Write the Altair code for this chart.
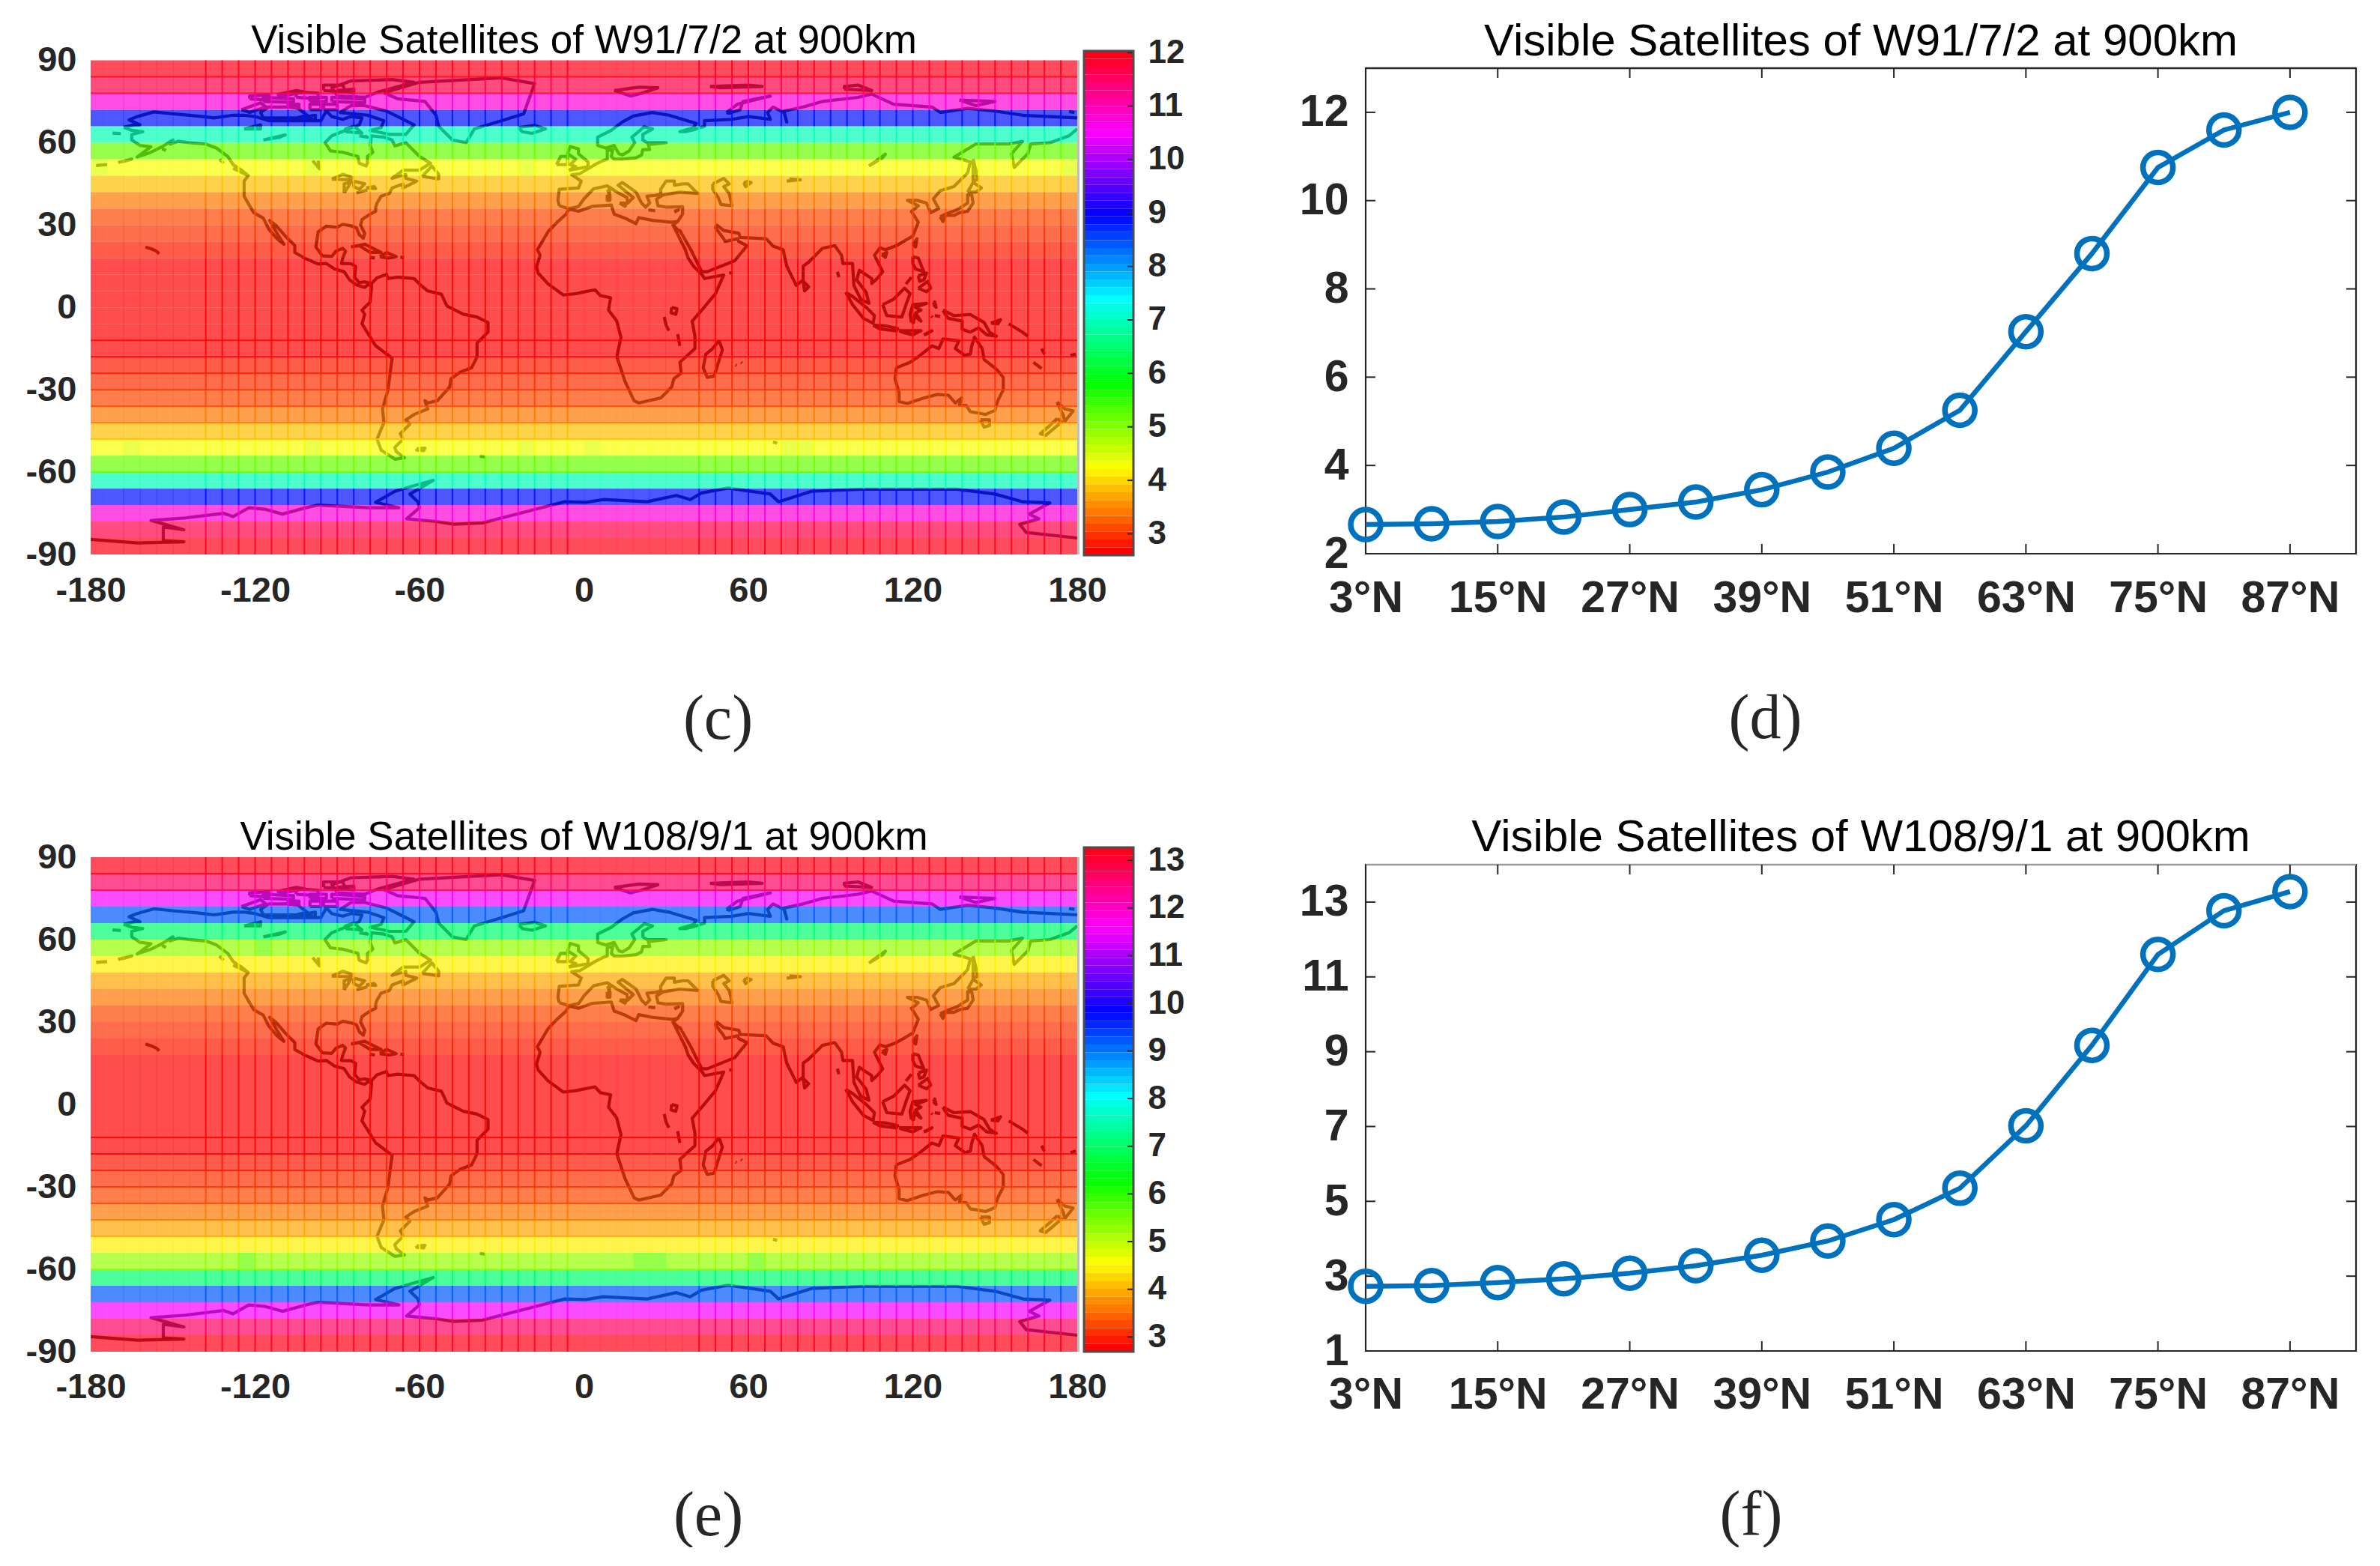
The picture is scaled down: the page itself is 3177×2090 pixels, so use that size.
import math
import altair as alt
import pandas as pd

alt.data_transformers.disable_max_rows()

LATS_N = [3, 9, 15, 21, 27, 33, 39, 45, 51, 57, 63, 69, 75, 81, 87]
VALUES_D = [2.66, 2.68, 2.73, 2.83, 3.0, 3.17, 3.45, 3.85, 4.39, 5.25, 7.03, 8.8, 10.75, 11.6, 12.0]
VALUES_F = [2.73, 2.75, 2.83, 2.93, 3.08, 3.28, 3.56, 3.94, 4.51, 5.35, 7.02, 9.17, 11.6, 12.77, 13.28]
X_TICKS = [3, 15, 27, 39, 51, 63, 75, 87]
Y_TICKS_D = [2, 4, 6, 8, 10, 12]
Y_TICKS_F = [1, 3, 5, 7, 9, 11, 13]
CB_TICKS_C = [3, 4, 5, 6, 7, 8, 9, 10, 11, 12]
CB_TICKS_E = [3, 4, 5, 6, 7, 8, 9, 10, 11, 12, 13]
LON_TICKS = [-180, -120, -60, 0, 60, 120, 180]
LAT_TICKS = [-90, -60, -30, 0, 30, 60, 90]
V_STRONG = list(range(-138, 0, 6)) + list(range(42, 180, 6))
V_FAINT = [-168, -162, -156, -150, -144, 0, 6, 12, 18, 24, 30, 36]
H_LINES = [84, 78, -12, -18, -24, -30, -36, -42, -48, -60]
# single cells that read a little higher than the rest of their band: (lon, lat, value)
CELLS_C = [(-180, 48, 4.55), (-102, 48, 4.55), (-24, 48, 4.55), (174, 48, 4.55),
           (-168, -54, 4.55), (-102, -54, 4.55), (-24, -54, 4.55), (0, -54, 4.55), (72, -54, 4.55), (78, -54, 4.55)]
CELLS_E = [(-126, -60, 5.65), (18, -60, 5.65), (24, -60, 5.65), (60, -60, 5.65), (-120, 54, 5.65)]

COAST = [
 # North America
 [(-168,65.6),(-164,66.5),(-162,66.5),(-166,68.3),(-163,69.5),(-157,71.2),(-150,70.5),(-141,69.7),(-135,69),(-128,70),(-124,70),(-120,69.5),(-115,68),(-108,68),(-100,68),(-96,68),(-94,71.5),(-92,69.5),(-88,68.5),(-85,69.5),(-81,69),(-82,66.5),(-87,64.5),(-92,62.5),(-94.5,60),(-92.5,57),(-88,56.5),(-82.5,55),(-82,52.5),(-79.5,51.5),(-79,52.5),(-79,55),(-77,56.5),(-78,59),(-77.5,62.5),(-73,62),(-70,61),(-69,58.8),(-65,60),(-62,57),(-60,55),(-56,52.5),(-60,50),(-66,50),(-70,47),(-65,48.5),(-65,47),(-61,46),(-64,44.5),(-66,43.5),(-66,45),(-70,43.5),(-71,41.5),(-74,40.5),(-75.5,38),(-76,36.5),(-76,35),(-78,34),(-81,32),(-81.5,30),(-80,27),(-80.5,25.2),(-82,26.5),(-83,29),(-85,29.7),(-88,30.3),(-90,29.2),(-94,29.6),(-97,27.5),(-97.5,24),(-97.8,22),(-95.5,18.8),(-92,18.6),(-90.5,20.5),(-88,21.5),(-87,20.5),(-88,18),(-88.5,16),(-85,15.9),(-83.3,15),(-83.7,11),(-82,9),(-80,9.3),(-77.5,8.7)],
 [(-77.5,7.5),(-78.5,8.5),(-80,7.3),(-83,8.2),(-85.5,10),(-87.5,13),(-91,14),(-94,16),(-97,15.8),(-102,18),(-105.5,20),(-105.5,22.5),(-109,26),(-112.5,30),(-114.7,31.7),(-112,27),(-109.5,23),(-112,25),(-115,28.5),(-117,32.5),(-120.5,34.5),(-122,37),(-124,40.5),(-124,46),(-122.5,48),(-125,50),(-128,52),(-130,55),(-134,58),(-138,59.5),(-144,60),(-148,60.5),(-151,59.5),(-150,61),(-154,58.5),(-158,56.5),(-163,54.8),(-158,58.5),(-162,59),(-165,61),(-165,63),(-161,64),(-165,64.5),(-168,65.6)],
 [(-80,73.5),(-72,71.5),(-67,69),(-62,66.5),(-65,63),(-71,63),(-78,64.5),(-74,65.5),(-73,68),(-79,70),(-89,71),(-85,73.5),(-80,73.5)],
 [(-117,69),(-105,69),(-101,70),(-105,73),(-115,73),(-118,71),(-117,69)],
 [(-125,72),(-118,74.5),(-116,73),(-122,71),(-125,72)],
 [(-90,77),(-80,76.5),(-75,78.5),(-62,82),(-70,83),(-85,82.5),(-92,80),(-90,77)],
 [(-92,75),(-80,74.5),(-80,75.8),(-92,76.5),(-92,75)],
 [(-95,79),(-87,78.5),(-88,81),(-95,81),(-95,79)],
 [(-117,75),(-106,74.7),(-106,76),(-117,76.5),(-117,75)],
 [(-100,72),(-96,72),(-96,74),(-100,74),(-100,72)],
 [(-95,72),(-90,72),(-90,74),(-95,74),(-95,72)],
 [(-105,76.5),(-97,76),(-97,78),(-105,78.5),(-105,76.5)],
 [(-122,76),(-115,75.5),(-115,77.5),(-122,77),(-122,76)],
 [(-112,77.5),(-105,79),(-102,78.5),(-110,77),(-112,77.5)],
 [(-100,75),(-94,75),(-94,76.5),(-100,76.5),(-100,75)],
 [(-108,73),(-104,72.5),(-104,74),(-108,74),(-108,73)],
 [(-90,79),(-84,78),(-84,79.5),(-90,79)],
 [(-104,69),(-98,70),(-98,68.5),(-104,69)],
 [(-87,64),(-81,63.5),(-84,66),(-87,65),(-87,64)],
 [(-80,62.5),(-79,62),(-82,62.5)],
 [(-59,47.7),(-53,46.8),(-53,48.5),(-55.5,51.5),(-59,47.7)],
 [(-128,50.7),(-123.5,48.5),(-125,50),(-128,50.7)],
 [(-133,54),(-131.5,52.5)],
 [(-154,57.8),(-152.5,57.2)],
 [(-85,22),(-80,23),(-75,20.5),(-74,20),(-78,20),(-82,22.5),(-85,22)],
 [(-74.5,18.5),(-72,20),(-68.5,18.5),(-71,18),(-74.5,18.5)],
 [(-78.3,18.3),(-76.3,18)],
 [(-67,18.3),(-65.6,18.2)],
 [(-160,22),(-157.8,21.3),(-156,20.5),(-155,19.5)],
 [(-178,51.7),(-174,52)],
 [(-170,52.8),(-165,54),(-168.5,53)],
 [(-172,63.5),(-169,63.3)],
 [(-92,46.7),(-88,48.5),(-85,47.5),(-85,46.5),(-92,46.7)],
 [(-87.5,41.7),(-86,44),(-85,45.8),(-87.5,45),(-87.5,41.7)],
 [(-84,46),(-80,45),(-82,43),(-84,44),(-84,46)],
 [(-83,41.7),(-79,42.8)],
 [(-79.5,43.5),(-76.5,44),(-76,43.3),(-79.5,43.5)],
 [(-124,65),(-118,66.5),(-118,65),(-124,65)],
 [(-117,61),(-109,62.8),(-111,62),(-117,61)],
 [(-99,53.5),(-96.5,50.5),(-97,53.5)],
 # Greenland
 [(-73,78.2),(-60,82),(-30,83.6),(-18,81.5),(-20,76),(-22,70.5),(-30,68),(-40,65),(-43,60),(-48,61),(-53,66),(-54,70),(-58,75),(-68,76),(-73,78.2)],
 # South America
 [(-77.5,8.7),(-75.5,10.8),(-72,12),(-71.5,10.5),(-68,11),(-62,10.5),(-60,8.5),(-57,6),(-52,4.8),(-50,0.5),(-44,-2.5),(-39,-3.5),(-35,-5.5),(-35,-9),(-39,-13),(-39,-18),(-41,-22),(-45,-23.5),(-48.5,-26),(-49,-29),(-53.5,-34),(-57,-34.8),(-58,-34),(-57,-37),(-62,-39),(-65,-41),(-63.5,-42.5),(-67,-46),(-66,-48),(-69,-51),(-68.5,-52.5),(-65.5,-54.8),(-69,-55.3),(-74,-52),(-75.5,-48),(-73,-42),(-73.5,-37),(-71.5,-30),(-70,-18.5),(-76,-14),(-81,-6),(-80,-2.5),(-81,-1),(-78,2),(-77.5,7.5),(-77.5,8.7)],
 [(-61,-51.5),(-58,-51.3),(-58.5,-52.2),(-61,-52),(-61,-51.5)],
 [(-38,-54.2),(-36,-54.5)],
 # Africa
 [(-5.5,35.8),(-2,35),(3,36.8),(10,37.3),(11,34),(15,32.5),(19,30.5),(20,32.7),(25,31.7),(32,31),(34.2,31.3)],
 [(32.5,30),(33.5,28),(35.5,24),(37,21),(38,18),(40,15),(43,12),(44,10.5),(51,11.8),(48,5),(43,-1),(39.5,-5),(40.5,-10.5),(40.5,-15),(35,-20),(35.5,-24),(32.8,-26),(32,-29),(28,-33),(20,-34.8),(18.3,-34),(15,-27),(12,-18),(13.5,-11),(12,-5),(9,-1),(9.7,3.5),(6,4.3),(4,6.4),(-3,5),(-7.5,4.5),(-13,8.5),(-16.7,12.5),(-17.3,14.7),(-16,19),(-17,21),(-13,27.7),(-9.8,31),(-6.5,34),(-5.5,35.8)],
 [(49.3,-12),(50.5,-15.5),(47.5,-25),(45,-25.5),(43.5,-22),(44.5,-17),(47,-15),(49.3,-12)],
 [(32,0),(34,-0.5),(33.5,-2.5),(31.8,-2),(32,0)],
 [(29.3,-3.5),(30,-6.5),(31,-8.5)],
 [(34.2,-9.7),(35,-14)],
 [(53,12.5),(54.3,12.6)],
 [(55.3,-21),(55.7,-21.2)],
 [(57.3,-20),(57.7,-20.3)],
 # Eurasia
 [(-9,37),(-9.5,39),(-9,43),(-2,43.5),(-1,46),(-4.5,48.3),(-1.5,48.7),(1.5,50.5),(4,52),(7,53.5),(8.5,54),(8.5,57),(10.5,57.5),(10,55),(11,54),(14,54),(19,54.5),(21,55.5),(21.5,57.5),(24,57.5),(23.5,59.3),(30,60),(23,60),(21.5,61),(21.5,63),(25,65),(22,65.8),(17.5,62),(18.5,60),(16.5,57),(14,55.5),(12.7,56),(11,59),(8,58),(5,59),(5,62),(10,64.5),(14,67.5),(18,69.7),(25,71),(31,70),(41,67),(40,65.5),(35,64),(37,64),(40,64.7),(44,66),(44,68),(54,68.5),(60,69.5),(68,68.5),(67,71),(69,73),(73,71),(74,67.5),(73,71.5),(80,73),(87,75),(100,76.5),(105,77.7),(113,74),(127,73),(130,71),(140,72.5),(150,71.5),(160,70),(170,69.5),(180,69)],
 [(180,65),(177,62.5),(170,60),(163,59.5),(162,56),(157,51),(156,56),(160,60.5),(155,59.5),(143,59.5),(135,54.7),(141,53),(140,49),(135,44),(130,42.5),(127.5,39.5),(129.4,36),(126.5,34.5),(125,38),(121.5,39),(118,39),(122,37),(119.5,35),(122,31),(120,26),(114,22.5),(110,21),(108,21.7),(106,19),(109,13),(107,10.5),(105,8.7),(105,10.5),(102,12.5),(100.5,13.5),(99.5,10),(103,5.5),(104,1.5),(101,3),(98.5,8),(98,16),(94.5,16),(94,19),(91.5,22.5),(87,21.5),(82,16.5),(80,15),(80,10),(77.5,8),(74,15),(72.7,21),(69,22.3),(66.5,25),(57,25.5),(56.5,27),(51,28),(48.5,30),(48,29),(51,25),(51.5,24),(56,25),(56.5,24),(59.5,22.5),(55,17),(45,13),(43,13),(39,21),(35,28),(34.5,28),(32.5,30),(34.2,31.3),(36,34),(36,36.7),(30,36.5),(27,37),(26.5,39.5),(29,41),(35,42),(41.5,41.5),(38,45),(36,45),(33,44.5),(33,46),(30,46),(28,43),(28,41.2),(26,40.8),(23,40.5),(24,38),(22.5,36.5),(21,38),(19.5,41),(19,42),(14,45.5),(12.5,44.5),(18,40),(16,38),(15.7,40),(12,42),(8.5,44.3),(3.5,43.2),(0,39.5),(-2,36.7),(-5.5,36),(-9,37)],
 [(47,45),(51,47),(53,45),(51,44),(53,41.5),(54,37),(50,37.5),(49,40),(47,43),(47,45)],
 [(59,46),(61,45.5),(59,44),(58.5,45),(59,46)],
 [(104,51.5),(110,55.8),(109,54.5),(104,51.5)],
 [(74,46),(79,46.5),(75,46.8)],
 [(8.5,41),(9.5,41),(9.5,39),(8.5,39),(8.5,41)],
 [(13,38),(15.5,38),(15,36.8),(13,38)],
 [(8.6,43),(9.5,42.9),(9.2,41.5),(8.6,43)],
 [(23.5,35.5),(26,35.2)],
 [(33,35),(34.5,35.5),(33,34.7)],
 [(-5.5,50),(1.5,51.2),(1.5,53),(-2,56),(-2,57.7),(-5,58.6),(-6,56),(-3,54),(-5,52),(-3,51.3),(-5.5,50)],
 [(-10,52),(-6,52),(-6,55),(-8.5,55),(-10,52)],
 [(-24,65.5),(-18,66.3),(-14,65),(-19,63.4),(-22.5,64),(-24,65.5)],
 [(11,79),(20,80.2),(27,80),(21,78),(17,77),(11,79)],
 [(46,80.5),(60,81),(65,80.5),(50,80),(46,80.5)],
 [(52,71),(56,74),(68,77),(58,75),(57,72),(53,70.7),(52,71)],
 [(95,79.5),(105,79),(100,81),(95,80.5),(95,79.5)],
 [(137,75.5),(150,75),(143,73.5),(137,75.5)],
 [(179,71),(177,71.3)],
 [(142,54),(143,50),(143.5,46.5),(142,46),(142,50),(142,54)],
 [(130,33),(132,34),(136,35.5),(140,38),(140,41),(141.5,41),(142,38),(140,35),(137,34.5),(135,33.5),(132,33.5),(131,31.3),(130,33)],
 [(140,42),(142,45.5),(145,43.5),(143,42),(140,42)],
 [(120,23),(121.5,25),(121,22),(120,23)],
 [(108.7,19.2),(110.5,20),(110,18.3),(108.7,19.2)],
 [(120,18.5),(122,18),(124,13),(121,14),(120,16),(120,18.5)],
 [(122,7),(125.5,9.5),(126.5,7),(125,5.7),(122,7)],
 [(122,11.5),(125,12.5),(124,10),(122.5,9.5),(122,11.5)],
 [(117.5,8.5),(119.5,11)],
 [(109,1),(113,3),(117,7),(119,5),(117.5,1),(116,-3.5),(110.5,-3),(109,1)],
 [(95.5,5.5),(98,4),(103,0),(106,-3),(105.5,-5.8),(102,-4),(98,1),(95.5,5.5)],
 [(105.5,-6.5),(110,-6.7),(114.5,-7.7),(114,-8.6),(108,-7.8),(105.5,-6.5)],
 [(119.5,-5.5),(119,-2.5),(120,1),(125,1.5),(121,0),(123,-1),(121,-2),(123,-5),(120.5,-3),(120.3,-5.5),(119.5,-5.5)],
 [(115,-8.5),(119,-8.5),(123,-8.5),(120,-10),(116,-9),(115,-8.5)],
 [(124,-10),(127,-8.5),(125,-9.7),(124,-10)],
 [(127.5,1),(128,2),(128.5,0),(127.5,1)],
 [(128,-3),(130,-3.3)],
 [(126.8,-3.2),(127.2,-3.6)],
 [(131,-1),(135,-3),(141,-2.6),(146,-5.5),(148,-9),(150.5,-10.5),(147,-10),(144,-7.5),(141,-9),(138,-8),(138,-5),(133,-4),(132,-2.8),(131,-1)],
 [(148.5,-5.7),(152,-4.5),(151,-6),(148.5,-5.7)],
 [(155,-6),(160,-9),(162,-10.5)],
 [(167,-15),(168,-17)],
 [(164,-20),(167,-22.3)],
 [(177.5,-17.5),(179.5,-17)],
 [(80,9.5),(82,7.5),(80.5,6),(80,9.5)],
 [(92.5,13),(93,11)],
 # Oceania
 [(114,-22),(113.5,-26),(115,-31),(115,-34.3),(118,-35),(124,-33),(129,-31.7),(133,-32),(135.5,-34.8),(137.8,-33),(137,-35.5),(139.5,-35.8),(141,-38),(144,-38.5),(146.5,-39),(150,-37.5),(151,-34),(153,-30),(153,-25.5),(150.5,-22.5),(146,-19),(145.3,-15),(142.5,-10.8),(141.5,-14),(141,-17),(139,-17.5),(135.5,-15),(136.8,-12.2),(131,-11.5),(129.5,-15),(127,-14),(122,-18),(119,-20),(114,-22)],
 [(144.7,-41),(148,-41),(148,-43),(146,-43.6),(144.7,-41)],
 [(172.7,-34.5),(175.5,-37),(178.5,-37.7),(175.5,-41.5),(174.8,-39),(173,-35.5),(172.7,-34.5)],
 [(172.7,-40.5),(174.3,-41.7),(171,-44.5),(168.5,-46.6),(166.5,-46),(170,-43),(172.7,-40.5)],
 [(69,-49),(70.5,-49.5)],
 # Antarctica
 [(-180,-84.5),(-163,-85.8),(-146,-85.4),(-153.5,-85),(-153.5,-80),(-146,-81),(-158,-77.6),(-145.4,-76.7),(-131.5,-75),(-128,-76.2),(-122.3,-73),(-116.5,-73.5),(-110,-75.3),(-101.6,-73),(-97,-72),(-78.5,-73),(-67.5,-73),(-76,-71),(-69,-67),(-64.7,-65.7),(-55,-63),(-63.5,-68),(-60.6,-70.8),(-60,-73),(-64.7,-77),(-54,-78),(-47.5,-79),(-37,-78.5),(-30,-76.7),(-14,-72.6),(-7,-70.8),(0.8,-71),(7,-70),(23,-70.8),(33.7,-68.5),(38.8,-70),(42.9,-67.6),(52.6,-65.8),(68,-68),(71,-70.8),(83,-67),(101.5,-66.2),(136,-66.2),(150,-68),(160.2,-70.8),(170,-71.2),(162.5,-75.3),(166,-77),(159,-79),(161.4,-82),(180,-84)],
]

FONT = "Liberation Sans"
INK = "#262626"
BLUE = "#0072BD"


def hsv_hex(h):
    i = int(h * 6) % 6
    f = h * 6 - int(h * 6)
    rows = [(1, f, 0), (1 - f, 1, 0), (0, 1, f), (0, 1 - f, 1), (f, 0, 1), (1, 0, 1 - f)]
    r, g, b = rows[i]
    return "#%02x%02x%02x" % (round(r * 255), round(g * 255), round(b * 255))


def level_colour(v, lo, hi):
    k = min(63, max(0, int((v - lo) / (hi - lo) * 64)))
    return hsv_hex(k / 64)


def band_value(lat, values):
    return values[int((abs(lat + 3) - 3) / 6)]


def map_panel(title, values, extra, lo, hi, rng, title_offset, cap, cap_x, h):
    overrides = {(a, b): v for a, b, v in extra}
    cells, vs, hs = [], [], []
    for la in range(-90, 90, 6):
        c = level_colour(band_value(la, values), lo, hi)
        for lo_ in range(-180, 180, 6):
            cv = overrides.get((lo_, la))
            cc = level_colour(cv, lo, hi) if cv else c
            cells.append({"lon": lo_, "lon2": lo_ + 6, "lat": la, "lat2": la + 6, "c": cc})
        for x in V_STRONG:
            vs.append({"lon": x, "lat": la, "lat2": la + 6, "c": c, "f": 0})
        for x in V_FAINT:
            vs.append({"lon": x, "lat": la, "lat2": la + 6, "c": c, "f": 1})
    for yy in H_LINES:
        c = level_colour(band_value(yy, values), lo, hi)
        for lo_ in range(-180, 180, 6):
            hs.append({"lon": lo_, "lon2": lo_ + 6, "lat": yy, "c": c})
    coast = [{"lon": p[0], "lat": p[1], "seg": s, "i": i}
             for s, line in enumerate(COAST) for i, p in enumerate(line)]
    xs = alt.Scale(domain=[-180, 180], nice=False, zero=False)
    ys = alt.Scale(domain=[-90, 90], nice=False, zero=False, range=rng)
    xa = alt.Axis(values=LON_TICKS, labelExpr="'' + datum.value", grid=False, domain=False, ticks=False,
                  labelFont=FONT, labelFontSize=47, labelFontWeight="bold", labelColor=INK, labelPadding=24,
                  labelOverlap=False, labelFlush=False, title=cap, titleFont="Liberation Serif", titleFontSize=84,
                  titleFontWeight="normal", titleColor=INK, titleX=cap_x, titleY=244,
                  titleBaseline="alphabetic", titleAnchor="start", titleAlign="center")
    ya = alt.Axis(values=LAT_TICKS, labelExpr="'' + datum.value", grid=False, domain=False, ticks=False,
                  labelFont=FONT, labelFontSize=47, labelFontWeight="bold", labelColor=INK, labelPadding=19,
                  labelOverlap=False, labelFlush=False, title=None)
    X = alt.X("lon:Q", scale=xs, axis=xa)
    Y = alt.Y("lat:Q", scale=ys, axis=ya)
    col = alt.Color("c:N", scale=None)
    land = alt.Chart(pd.DataFrame(coast)).mark_line(color="#222222", strokeWidth=4.2, strokeJoin="round", clip=True).encode(
        x=X, y=Y, detail="seg:N", order="i:Q")
    rects = alt.Chart(pd.DataFrame(cells)).mark_rect(fillOpacity=0.7, strokeWidth=0).encode(
        x=X, x2="lon2:Q", y=Y, y2="lat2:Q", color=col)
    vdf = pd.DataFrame(vs)
    vstrong = alt.Chart(vdf[vdf.f == 0]).mark_rule(strokeWidth=2, opacity=0.9).encode(
        x=X, y=Y, y2="lat2:Q", color=col)
    vfaint = alt.Chart(vdf[vdf.f == 1]).mark_rule(strokeWidth=1.6, opacity=0.3).encode(
        x=X, y=Y, y2="lat2:Q", color=col)
    hl = alt.Chart(pd.DataFrame(hs)).mark_rule(strokeWidth=2, opacity=0.85).encode(
        x=X, x2="lon2:Q", y=Y, color=col)
    edge = alt.Chart(pd.DataFrame({"lon": [180.4], "lat": [-90], "lat2": [90]})).mark_rule(
        color="#bdbdbd", strokeWidth=3).encode(x=X, y=Y, y2="lat2:Q")
    return alt.layer(land, rects, vfaint, vstrong, hl, edge).properties(
        width=1317, height=h,
        title=alt.TitleParams(title, font=FONT, fontSize=53, fontWeight="normal", color="black",
                              offset=title_offset))


def colour_bar(lo, hi, ticks, h):
    levels = [{"y": lo + (hi - lo) * k / 64, "y2": lo + (hi - lo) * (k + 1) / 64, "c": hsv_hex(k / 64)}
              for k in range(64)]
    ys = alt.Scale(domain=[lo, hi], nice=False, zero=False)
    ya = alt.Axis(orient="right", values=ticks, grid=False, domain=False, ticks=False, labelFont=FONT,
                  labelFontSize=44, labelFontWeight="bold", labelColor=INK, labelPadding=19,
                  labelOverlap=False, labelFlush=False, title=None, format="d")
    Y = alt.Y("y:Q", scale=ys, axis=ya)
    bars = alt.Chart(pd.DataFrame(levels)).mark_rect(strokeWidth=0).encode(
        x=alt.value(0), x2=alt.value(66), y=Y, y2="y2:Q",
        color=alt.Color("c:N", scale=None))
    tk = alt.Chart(pd.DataFrame({"y": ticks})).mark_rule(color=INK, strokeWidth=2).encode(
        x=alt.value(58), x2=alt.value(66), y=Y)
    frame = alt.Chart(pd.DataFrame({"y": [lo], "y2": [hi]})).mark_rect(
        fillOpacity=0, stroke="#4d4d4d", strokeWidth=3).encode(
        x=alt.value(0), x2=alt.value(66), y=Y, y2="y2:Q")
    return alt.layer(bars, tk, frame).properties(width=66, height=h)


def line_panel(title, values, y_lo, y_hi, yticks, rng, title_offset, cap, cap_x, h, top_colour):
    df = pd.DataFrame({"x": LATS_N, "y": values})
    xs = alt.Scale(domain=[3, 93], nice=False, zero=False)
    ys = alt.Scale(domain=[y_lo, y_hi], nice=False, zero=False, range=rng)
    xa = alt.Axis(values=X_TICKS, labelExpr="datum.value + '°N'", grid=False, domain=False, ticks=False,
                  labelFont=FONT, labelFontSize=59, labelFontWeight="bold", labelColor=INK,
                  labelPadding=28, labelOverlap=False, labelFlush=False, title=cap, titleFont="Liberation Serif",
                  titleFontSize=84, titleFontWeight="normal", titleColor=INK, titleX=cap_x, titleY=243,
                  titleBaseline="alphabetic", titleAnchor="start", titleAlign="center")
    ya = alt.Axis(values=yticks, grid=False, domain=False, ticks=False, labelFont=FONT, labelFontSize=59,
                  labelFontWeight="bold", labelColor=INK, labelPadding=23, labelOverlap=False, labelFlush=False,
                  title=None, format="d")
    X = alt.X("x:Q", scale=xs, axis=xa)
    Y = alt.Y("y:Q", scale=ys, axis=ya)
    dy = (y_hi - y_lo) * 13 / 648
    dx = 90 * 13 / 1322
    vt = [{"x": t, "y": y_lo, "y2": y_lo + dy} for t in X_TICKS] + [{"x": t, "y": y_hi, "y2": y_hi - dy} for t in X_TICKS]
    ht = [{"x": 3, "x2": 3 + dx, "y": t} for t in yticks] + [{"x": 93, "x2": 93 - dx, "y": t} for t in yticks]
    box = pd.DataFrame({"x": [3], "x2": [93], "y": [y_lo], "y2": [y_hi]})
    frame = alt.Chart(box).mark_rect(fillOpacity=0, stroke=INK, strokeWidth=2.2).encode(
        x=X, x2="x2:Q", y=Y, y2="y2:Q")
    top = pd.DataFrame({"x": [3], "x2": [93], "y": [y_hi]})
    topl = alt.Chart(top).mark_rule(stroke=top_colour, strokeWidth=2.6).encode(x=X, x2="x2:Q", y=Y)
    t1 = alt.Chart(pd.DataFrame(vt)).mark_rule(color=INK, strokeWidth=2).encode(x=X, y=Y, y2="y2:Q")
    t2 = alt.Chart(pd.DataFrame(ht)).mark_rule(color=INK, strokeWidth=2).encode(x=X, x2="x2:Q", y=Y)
    line = alt.Chart(df).mark_line(color=BLUE, strokeWidth=6.5).encode(x=X, y=Y)
    pts = alt.Chart(df).mark_point(filled=False, color=BLUE, size=1600, strokeWidth=7.5, opacity=1).encode(x=X, y=Y)
    return alt.layer(frame, topl, t1, t2, line, pts).properties(
        width=1322, height=h,
        title=alt.TitleParams(title, font=FONT, fontSize=60, fontWeight="normal", color="black",
                              offset=title_offset))


def spacer(h):
    return alt.Chart(pd.DataFrame({"a": [0]})).mark_point(opacity=0).encode(x=alt.value(0)).properties(width=292, height=h)


H = 673
LO_C, HI_C = 2.6, 12.03
LO_E, HI_E = 2.69, 13.27
MAP_C_TITLE = "Visible Satellites of W91/7/2 at 900km"
MAP_E_TITLE = "Visible Satellites of W108/9/1 at 900km"

panels = [
    map_panel(MAP_C_TITLE, VALUES_D, CELLS_C, 2.66, 12.0, [672, 12.5], -25, "(c)", 837, H),
    colour_bar(LO_C, HI_C, CB_TICKS_C, H),
    spacer(H),
    line_panel(MAP_C_TITLE, VALUES_D, 2, 13, Y_TICKS_D, [671, 23], -19, "(d)", 533, H, INK),
    map_panel(MAP_E_TITLE, VALUES_F, CELLS_E, 2.73, 13.28, [673, 13], -25, "(e)", 824, H),
    colour_bar(LO_E, HI_E, CB_TICKS_E, H),
    spacer(H),
    line_panel(MAP_E_TITLE, VALUES_F, 1, 14, Y_TICKS_F, [672, 23], -18, "(f)", 514, H, "#9a9a9a"),
]

chart = alt.concat(*panels, columns=4, bounds="flush", align="each",
                   spacing=alt.RowColnumber(row=390, column=9)).properties(
    padding={"left": 26, "top": 18, "right": 0, "bottom": 0}
).configure_view(stroke=None)

chart.save("out.html", embed_options={"renderer": "svg", "actions": False})
